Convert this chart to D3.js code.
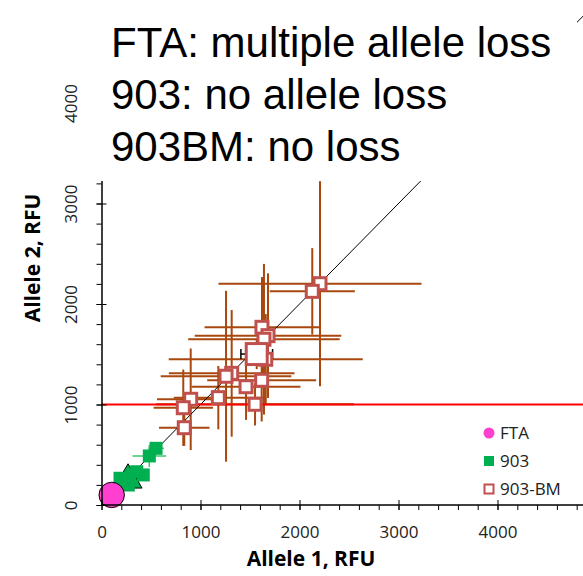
<!DOCTYPE html>
<html>
<head>
<meta charset="utf-8">
<script src="https://cdn.jsdelivr.net/npm/d3@7"></script>
<style>
  body { margin: 0; background: #fff; }
  svg { display: block; }
</style>
</head>
<body>
<div id="chart"></div>
<script>
const width = 583;
const height = 576;

// 903-BM replicate points (allele 1 / allele 2 RFU) with +/- errors
const bmX = [2207, 2129, 1621, 1682, 1641, 1659, 1315, 1258, 1618, 1460, 1180, 901, 1551, 826, 836];
const bmY = [2202, 2126, 1768, 1685, 1649, 1450, 1310, 1281, 1241, 1177, 1068, 1052, 1002, 968, 769];
const bmErrX = [1025, 430, 580, 740, 765, 980, 635, 660, 550, 550, 450, 340, 1000, 300, 255];
const bmErrY = [1020, 430, 500, 620, 750, 450, 630, 850, 410, 330, 315, 505, 210, 380, 180];

// 903-BM mean
const bmMean = { x: 1568, y: 1502, ex: 160, ey: 150 };

// 903 points
const g903X = [551, 483, 422, 356, 271, 187, 237];
const g903Y = [564, 488, 299, 331, 199, 266, 249];
const g903ErrX = [80, 170, 60, 60, 50, 50, 50];
const g903ErrY = [60, 110, 50, 50, 40, 40, 40];

// 903 mean
const g903Mean = { x: 268, y: 249 };

// FTA
const ftaX = [103];
const ftaY = [100];

const thresholdY = 1000;
const xMajorTicks = [0, 1000, 2000, 3000, 4000];
const yMajorTicks = [0, 1000, 2000, 3000, 4000];

const titleLines = ["FTA: multiple allele loss", "903: no allele loss", "903BM: no loss"];
const legendItems = ["FTA", "903", "903-BM"];

const brown = "#a8480f";
const bmStroke = "#c0504d";
const green = "#00b050";
const pink = "#ff3fcf";

const svg = d3.select("#chart").append("svg")
  .attr("width", width)
  .attr("height", height);

const x = d3.scaleLinear().domain([0, 5000]).range([101.5, 596.5]);
const y = d3.scaleLinear().domain([0, 4500]).range([505, 52.75]);

const bmPoints = bmX.map((v, i) => ({ x: v, y: bmY[i], ex: bmErrX[i], ey: bmErrY[i] }));
const g903Points = g903X.map((v, i) => ({ x: v, y: g903Y[i], ex: g903ErrX[i], ey: g903ErrY[i] }));

// brown error bars
const bars = svg.append("g").attr("stroke", brown).attr("stroke-width", 2);
bmPoints.forEach((d) => {
  bars.append("line")
    .attr("x1", x(d.x - d.ex)).attr("x2", x(d.x + d.ex))
    .attr("y1", y(d.y)).attr("y2", y(d.y));
  bars.append("line")
    .attr("x1", x(d.x)).attr("x2", x(d.x))
    .attr("y1", y(d.y - d.ey)).attr("y2", y(d.y + d.ey));
});
bars.append("line")
  .attr("x1", x(bmMean.x)).attr("x2", x(bmMean.x))
  .attr("y1", y(bmMean.y - bmMean.ey)).attr("y2", y(bmMean.y + bmMean.ey));

// black mean bar with caps
const meanBar = svg.append("g").attr("stroke", "#000").attr("stroke-width", 1.5);
meanBar.append("line")
  .attr("x1", x(bmMean.x - bmMean.ex)).attr("x2", x(bmMean.x + bmMean.ex))
  .attr("y1", y(bmMean.y)).attr("y2", y(bmMean.y));
[bmMean.x - bmMean.ex, bmMean.x + bmMean.ex].forEach((v) => {
  meanBar.append("line")
    .attr("x1", x(v)).attr("x2", x(v))
    .attr("y1", y(bmMean.y) - 5).attr("y2", y(bmMean.y) + 5);
});

// green error bars
const gBars = svg.append("g").attr("stroke", "#3cc46e").attr("stroke-width", 1.5);
g903Points.forEach((d) => {
  gBars.append("line")
    .attr("x1", x(d.x - d.ex)).attr("x2", x(d.x + d.ex))
    .attr("y1", y(d.y)).attr("y2", y(d.y));
  gBars.append("line")
    .attr("x1", x(d.x)).attr("x2", x(d.x))
    .attr("y1", y(d.y - d.ey)).attr("y2", y(d.y + d.ey));
});

// 1:1 line
svg.append("line")
  .attr("x1", x(0)).attr("y1", y(0))
  .attr("x2", x(5000)).attr("y2", y(5000))
  .attr("stroke", "#000").attr("stroke-width", 1);

// threshold line
svg.append("line")
  .attr("x1", x(0)).attr("x2", width)
  .attr("y1", y(thresholdY)).attr("y2", y(thresholdY))
  .attr("stroke", "#ff0000").attr("stroke-width", 2);

// 903 mean triangle
svg.append("path")
  .attr("d", d3.symbol(d3.symbolTriangle, 340)())
  .attr("transform", `translate(${x(g903Mean.x)},${y(g903Mean.y)})`)
  .attr("fill", green).attr("stroke", "#000").attr("stroke-width", 1);

// 903 squares
svg.append("g").selectAll("rect").data(g903Points).join("rect")
  .attr("x", (d) => x(d.x) - 6.5).attr("y", (d) => y(d.y) - 6.5)
  .attr("width", 13).attr("height", 13)
  .attr("fill", green);

// 903-BM squares
svg.append("g").selectAll("rect").data(bmPoints).join("rect")
  .attr("x", (d) => x(d.x) - 6).attr("y", (d) => y(d.y) - 6)
  .attr("width", 12).attr("height", 12)
  .attr("fill", "#fff").attr("stroke", bmStroke).attr("stroke-width", 3);

svg.append("rect")
  .attr("x", x(bmMean.x) - 10.5).attr("y", y(bmMean.y) - 10.5)
  .attr("width", 21).attr("height", 21)
  .attr("fill", "#fff").attr("stroke", bmStroke).attr("stroke-width", 3);

// FTA circle
svg.append("g").selectAll("circle").data(ftaX).join("circle")
  .attr("cx", (d) => x(d)).attr("cy", (d, i) => y(ftaY[i]))
  .attr("r", 12.7)
  .attr("fill", pink).attr("stroke", "#000").attr("stroke-width", 1);

// axes
const tickFont = "'Open Sans', sans-serif";
const fmt = d3.format("d");

const xMinor = svg.append("g").attr("transform", `translate(0,${y(0)})`)
  .call(d3.axisBottom(x).tickValues(d3.range(0, 4801, 200)).tickSize(5).tickSizeOuter(0).tickFormat(""));
xMinor.select(".domain").remove();
const xAxis = svg.append("g").attr("transform", `translate(0,${y(0)})`)
  .call(d3.axisBottom(x).tickValues(xMajorTicks).tickSize(5).tickSizeOuter(0).tickFormat(fmt));
xAxis.select(".domain").attr("d", `M${x(0)},0H${width}`).attr("stroke-width", 1.5);
xAxis.selectAll(".tick line").attr("y1", -5);
xAxis.selectAll(".tick text")
  .attr("y", 33).attr("dy", 0)
  .attr("font-family", tickFont).attr("font-size", 17).attr("fill", "#222");

const yMinor = svg.append("g").attr("transform", `translate(${x(0)},0)`)
  .call(d3.axisLeft(y).tickValues(d3.range(0, 4401, 200)).tickSize(5).tickSizeOuter(0).tickFormat(""));
yMinor.select(".domain").remove();
const yAxis = svg.append("g").attr("transform", `translate(${x(0)},0)`)
  .call(d3.axisLeft(y).tickValues(yMajorTicks).tickSize(5).tickSizeOuter(0).tickFormat(fmt));
yAxis.select(".domain").attr("stroke-width", 1.5);
yAxis.selectAll(".tick line").attr("x1", 5);
yAxis.selectAll(".tick text")
  .attr("x", 0).attr("y", 0).attr("dy", 0)
  .attr("text-anchor", "middle")
  .attr("transform", "translate(-25,0) rotate(-90)")
  .attr("font-family", tickFont).attr("font-size", 17).attr("fill", "#222");

// axis titles
svg.append("text")
  .attr("x", 311).attr("y", 566)
  .attr("text-anchor", "middle")
  .attr("font-family", tickFont).attr("font-weight", 700).attr("font-size", 21)
  .text("Allele 1, RFU");

svg.append("text")
  .attr("transform", "translate(40,258) rotate(-90)")
  .attr("text-anchor", "middle")
  .attr("font-family", tickFont).attr("font-weight", 700).attr("font-size", 21)
  .text("Allele 2, RFU");

// title box over the top of the plot
svg.append("rect")
  .attr("x", 90).attr("y", 0)
  .attr("width", 487).attr("height", 181)
  .attr("fill", "#fff");

const titleBaselines = [57, 109, 160.5];
svg.append("g").selectAll("text").data(titleLines).join("text")
  .attr("x", 111).attr("y", (d, i) => titleBaselines[i])
  .attr("font-family", "'Liberation Sans', Arial, sans-serif")
  .attr("font-size", 42)
  .attr("fill", "#000")
  .text((d) => d);

// legend
const legend = svg.append("g").attr("font-family", tickFont).attr("font-size", 17).attr("fill", "#222");
const legendY = [433, 461, 489];
legend.append("circle").attr("cx", 489).attr("cy", legendY[0]).attr("r", 5.5).attr("fill", pink);
legend.append("rect").attr("x", 484).attr("y", legendY[1] - 5).attr("width", 10).attr("height", 10).attr("fill", green);
legend.append("rect").attr("x", 484.5).attr("y", legendY[2] - 4.5).attr("width", 9).attr("height", 9)
  .attr("fill", "#fff").attr("stroke", bmStroke).attr("stroke-width", 2);
legend.selectAll("text").data(legendItems).join("text")
  .attr("x", 500).attr("y", (d, i) => legendY[i] + 6)
  .text((d) => d);
</script>
</body>
</html>
